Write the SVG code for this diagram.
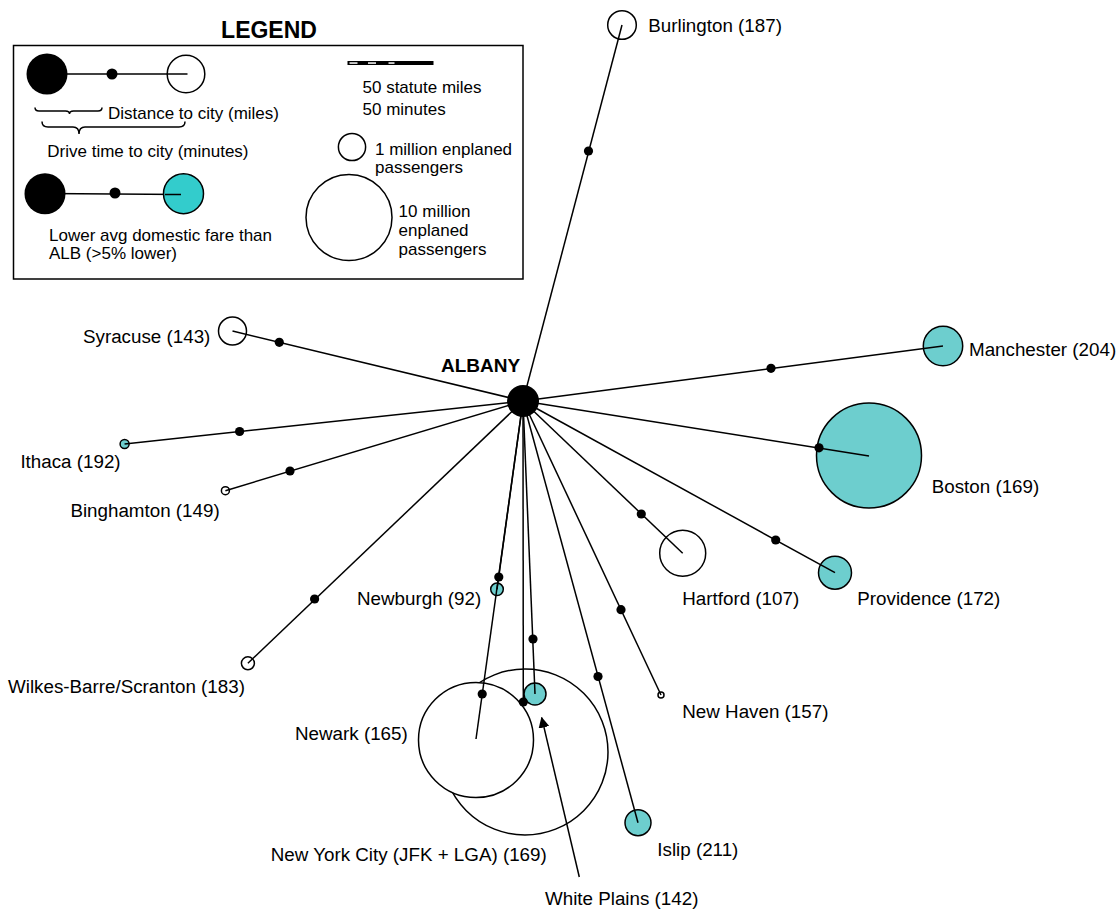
<svg xmlns="http://www.w3.org/2000/svg" width="1120" height="910" viewBox="0 0 1120 910">
<defs>
<style>
text{font-family:"Liberation Sans",Arial,Helvetica,sans-serif;fill:#000}
.t{font-size:18.8px}
.lg{font-size:17px}
.b{font-weight:bold}
.c{stroke:#000;stroke-width:1.5}
.w{fill:#fff}
.tl{fill:#6DCECE}
.tl2{fill:#33CCCC}
.ln{stroke:#000;stroke-width:1.5;fill:none}
.d{fill:#000}
</style>
<marker id="ah" viewBox="0 0 10 10" refX="9" refY="5" markerWidth="11" markerHeight="11" markerUnits="userSpaceOnUse" orient="auto">
<path d="M0,0 L10,5 L0,10 z" fill="#000"/>
</marker>
</defs>
<rect width="1120" height="910" fill="#fff"/>

<g id="legend">
<text x="269" y="38.3" class="b" style="font-size:23px" text-anchor="middle">LEGEND</text>
<rect x="13.5" y="45.5" width="509.5" height="233.5" fill="none" stroke="#000" stroke-width="1.5"/>
<line x1="47" y1="74" x2="186" y2="74" class="ln"/>
<circle cx="47" cy="74" r="20.5" class="d"/>
<circle cx="112" cy="74" r="5.5" class="d"/>
<circle cx="186" cy="74" r="18.8" fill="none" class="c"/>
<line x1="186" y1="74" x2="187.5" y2="74" class="ln"/>
<path d="M35,107.5 Q35,111 39,111 L65.5,111 Q69.5,111 69.5,114 Q69.5,111 73.5,111 L98,111 Q102,111 102,107.5" class="ln" stroke-width="1.2"/>
<path d="M42,121.5 Q42,127 48,127 L73,127 Q79,127 79,134 Q79,127 85,127 L179,127 Q185,127 185,121.5" class="ln" stroke-width="1.2"/>
<text x="108" y="119.3" class="lg">Distance to city (miles)</text>
<text x="47.3" y="156.7" class="lg">Drive time to city (minutes)</text>
<line x1="45" y1="193.5" x2="183" y2="194.5" class="ln"/>
<circle cx="45" cy="193.7" r="20.5" class="d"/>
<circle cx="115" cy="193" r="5.5" class="d"/>
<circle cx="183.5" cy="193.7" r="20" class="tl2 c"/>
<line x1="165" y1="194.5" x2="181" y2="194.5" class="ln"/>
<text x="49" y="240.7" class="lg">Lower avg domestic fare than</text>
<text x="49" y="259.3" class="lg">ALB (&gt;5% lower)</text>
<rect x="347.5" y="61" width="86" height="4" fill="#000"/>
<rect x="349.5" y="62.3" width="8" height="1.5" fill="#fff"/>
<rect x="368" y="62.3" width="8" height="1.5" fill="#fff"/>
<rect x="388.5" y="62.3" width="6" height="1.5" fill="#fff"/>
<text x="362.5" y="92.7" class="lg">50 statute miles</text>
<text x="362.5" y="115" class="lg">50 minutes</text>
<circle cx="352" cy="147" r="13.6" class="w c"/>
<text x="375" y="155" class="lg">1 million enplaned</text>
<text x="375" y="173.3" class="lg">passengers</text>
<circle cx="349" cy="217.5" r="43" class="w c"/>
<text x="398.6" y="216.7" class="lg">10 million</text>
<text x="398.6" y="235.7" class="lg">enplaned</text>
<text x="398.6" y="255" class="lg">passengers</text>
</g>

<g id="burlington"><circle cx="622" cy="25" r="14.3" class="w c"/><text x="648.3" y="32.3" class="t">Burlington (187)</text></g>
<g id="syracuse"><circle cx="232.5" cy="331" r="14" class="w c"/><text x="83" y="343.3" class="t">Syracuse (143)</text></g>
<g id="manchester"><circle cx="943" cy="346" r="19.7" class="tl c"/><text x="969" y="355.7" class="t">Manchester (204)</text></g>
<g id="ithaca"><circle cx="124.6" cy="444" r="4.5" class="tl c"/><text x="20.4" y="467.7" class="t">Ithaca (192)</text></g>
<g id="boston"><circle cx="869" cy="455.5" r="52.5" class="tl c"/><text x="931.7" y="492.7" class="t">Boston (169)</text></g>
<g id="binghamton"><circle cx="225.4" cy="490.7" r="4" class="w c"/><text x="70.4" y="517.3" class="t">Binghamton (149)</text></g>
<g id="newburgh"><circle cx="497" cy="589.3" r="6.3" class="tl c"/><text x="357" y="605" class="t">Newburgh (92)</text></g>
<g id="hartford"><circle cx="682.7" cy="553.3" r="23" class="w c"/><text x="682.3" y="605" class="t">Hartford (107)</text></g>
<g id="providence"><circle cx="835" cy="572.7" r="16.5" class="tl c"/><text x="857.3" y="605" class="t">Providence (172)</text></g>
<g id="wilkes-barre"><circle cx="247.9" cy="663.3" r="6.5" class="w c"/><text x="8" y="693.3" class="t">Wilkes-Barre/Scranton (183)</text></g>
<g id="new-haven"><circle cx="661" cy="695" r="3" class="w c"/><text x="682.3" y="717.7" class="t">New Haven (157)</text></g>
<g id="nyc"><circle cx="525" cy="752" r="83" class="w c"/><text x="270.7" y="860.7" class="t">New York City (JFK + LGA) (169)</text></g>
<g id="newark"><circle cx="476" cy="740" r="57.5" class="w c"/><text x="295" y="740" class="t">Newark (165)</text></g>
<g id="white-plains"><circle cx="535" cy="694" r="11" class="tl c"/><text x="545" y="905" class="t">White Plains (142)</text></g>
<g id="islip"><circle cx="638" cy="822.7" r="13" class="tl c"/><text x="657.3" y="855.7" class="t">Islip (211)</text></g>

<g id="connectors">
<g class="ln">
<line x1="523" y1="401" x2="622" y2="25"/>
<line x1="523" y1="401" x2="232.5" y2="331"/>
<line x1="523" y1="401" x2="943" y2="346"/>
<line x1="523" y1="401" x2="124.6" y2="444"/>
<line x1="523" y1="401" x2="869" y2="456"/>
<line x1="523" y1="401" x2="225.4" y2="490.7"/>
<line x1="523" y1="401" x2="497" y2="589.3"/>
<line x1="523" y1="401" x2="682.7" y2="553.3"/>
<line x1="523" y1="401" x2="835" y2="572.7"/>
<line x1="523" y1="401" x2="247.9" y2="663.3"/>
<line x1="523" y1="401" x2="661" y2="695"/>
<line x1="523" y1="401" x2="523.3" y2="702"/>
<line x1="523" y1="401" x2="476" y2="739"/>
<line x1="523" y1="401" x2="535" y2="694"/>
<line x1="523" y1="401" x2="638" y2="822.7"/>
<line x1="579.3" y1="877" x2="541.7" y2="717.7" marker-end="url(#ah)"/>
</g>
<g class="d">
<circle cx="588.5" cy="151" r="4.6"/>
<circle cx="279.3" cy="342.3" r="4.6"/>
<circle cx="771" cy="368.3" r="4.6"/>
<circle cx="239.6" cy="431.5" r="4.6"/>
<circle cx="819" cy="447.8" r="4.6"/>
<circle cx="290" cy="471" r="4.6"/>
<circle cx="498.8" cy="577" r="4.6"/>
<circle cx="641.3" cy="514" r="4.6"/>
<circle cx="775.7" cy="540" r="4.6"/>
<circle cx="314.6" cy="599" r="4.6"/>
<circle cx="621" cy="609.7" r="4.6"/>
<circle cx="523.3" cy="702" r="4.6"/>
<circle cx="482.2" cy="694" r="4.6"/>
<circle cx="533" cy="639" r="4.6"/>
<circle cx="598" cy="676.5" r="4.6"/>
</g>
</g>

<g id="albany"><circle cx="523" cy="401" r="16" class="d"/><text x="441" y="371.7" class="b" style="font-size:19px">ALBANY</text></g>
</svg>
